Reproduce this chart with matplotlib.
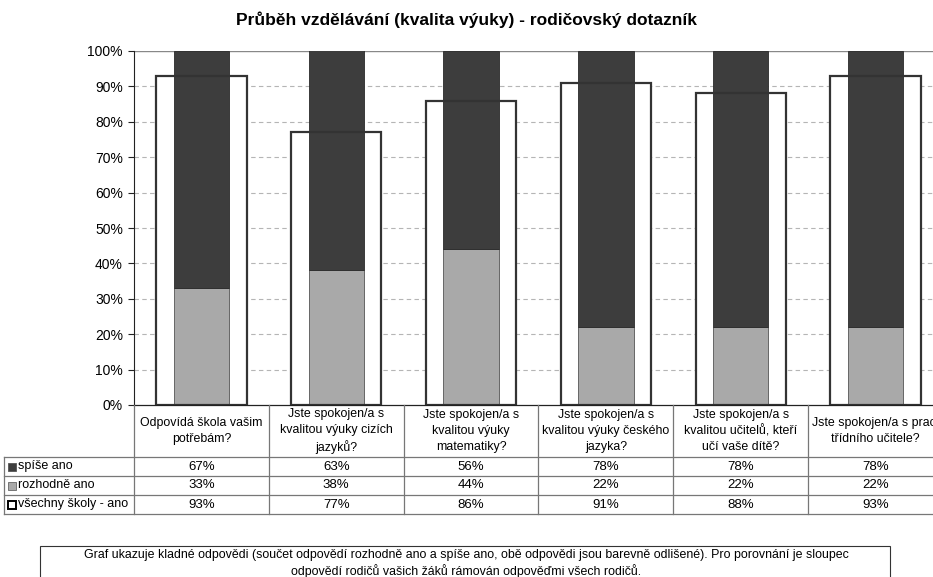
import numpy as np
import matplotlib.pyplot as plt
import matplotlib.transforms as mtransforms
from matplotlib.patches import Rectangle
from matplotlib.lines import Line2D

plt.rcParams['font.family'] = ['Liberation Sans', 'DejaVu Sans']

# --- Data ---
categories = [
    'Odpovídá škola vašim\npotřebám?',
    'Jste spokojen/a s\nkvalitou výuky cizích\njazyků?',
    'Jste spokojen/a s\nkvalitou výuky\nmatematiky?',
    'Jste spokojen/a s\nkvalitou výuky českého\njazyka?',
    'Jste spokojen/a s\nkvalitou učitelů, kteří\nučí vaše dítě?',
    'Jste spokojen/a s prací\ntřídního učitele?',
]
spise_ano = [67, 63, 56, 78, 78, 78]
rozhodne_ano = [33, 38, 44, 22, 22, 22]
vsechny_skoly = [93, 77, 86, 91, 88, 93]
series_labels = ['spíše ano', 'rozhodně ano', 'všechny školy - ano']

title = 'Průběh vzdělávání (kvalita výuky) - rodičovský dotazník'
note = ('Graf ukazuje kladné odpovědi (součet odpovědí rozhodně ano a spíše ano, obě odpovědi jsou barevně odlišené). '
        'Pro porovnání je sloupec\nodpovědí rodičů vašich žáků rámován odpověďmi všech rodičů.')

# --- Layout (pixels) ---
W, H = 933, 577
def fx(x): return x / W
def fy(y): return 1 - y / H

dark = '#3d3d3d'
light = '#a9a9a9'
edge = '#333333'
grid_c = '#b5b5b5'

fig = plt.figure(figsize=(W / 100, H / 100), dpi=100)
ax = fig.add_axes([fx(134), fy(405), fx(943 - 134), (405 - 51) / H])

x = np.arange(len(categories))

# outline (all schools) - white fill hides grid
ax.bar(x, vsechny_skoly, width=0.67, color='white', edgecolor='none', zorder=2)
ax.bar(x, rozhodne_ano, width=0.41, color=light, edgecolor='#555555', linewidth=0.6, zorder=3)
ax.bar(x, spise_ano, width=0.41, bottom=rozhodne_ano, color=dark, edgecolor='#2a2a2a',
       linewidth=0.6, zorder=3)
ax.bar(x, vsechny_skoly, width=0.67, fill=False, edgecolor=edge, linewidth=1.6, zorder=4)

ax.set_xlim(-0.5, len(categories) - 0.5)
ax.set_ylim(0, 100)
ax.set_yticks(np.arange(0, 101, 10))
ax.set_yticklabels([f'{v}%' for v in range(0, 101, 10)], fontsize=10)
ax.set_xticks([])
for v in range(10, 100, 10):
    ax.axhline(v, color=grid_c, linestyle=(0, (4, 3)), linewidth=0.8, zorder=1)
ax.axhline(100, color='#888888', linewidth=1.0, zorder=1)
for s in ['top', 'right', 'bottom']:
    ax.spines[s].set_visible(False)
ax.spines['left'].set_color('#222222')
ax.tick_params(axis='y', length=4, color='#222222', pad=4)

fig.text(fx(466), fy(20), title, ha='center', va='center', fontsize=12.5, fontweight='bold')

# --- Data table under the chart ---
tr = mtransforms.blended_transform_factory(ax.transData, fig.transFigure)
line_c = '#777777'
row_y = [405, 457, 476, 495, 514]
x_left_tab = 4

# horizontal lines
fig.add_artist(Line2D([fx(134), fx(943)], [fy(405), fy(405)], color='#222222', lw=0.9))
for yy in row_y[1:]:
    fig.add_artist(Line2D([fx(x_left_tab), fx(943)], [fy(yy), fy(yy)], color=line_c, lw=0.9))
# vertical lines
for i in range(len(categories) + 1):
    fig.add_artist(Line2D([i - 0.5, i - 0.5], [fy(405), fy(514)], color=line_c, lw=0.9,
                          transform=tr))
fig.add_artist(Line2D([fx(x_left_tab), fx(x_left_tab)], [fy(457), fy(514)], color=line_c, lw=0.9))

# category header text
for i, c in enumerate(categories):
    fig.text(i, fy(431), c, transform=tr, ha='center', va='center', fontsize=8.9,
             linespacing=1.4)

# rows
rows = [spise_ano, rozhodne_ano, vsechny_skoly]
swatch = [dict(fc=dark, ec='#555555'), dict(fc=light, ec='#666666'), dict(fc='white', ec='black')]
for r, (vals, lab, sw) in enumerate(zip(rows, series_labels, swatch)):
    yc = (row_y[r + 1] + row_y[r + 2]) / 2
    fig.add_artist(Rectangle((fx(8), fy(yc + 4)), 8 / W, 8 / H, facecolor=sw['fc'],
                             edgecolor=sw['ec'], lw=1.4 if r == 2 else 0.6))
    fig.text(fx(18), fy(yc), lab, ha='left', va='center', fontsize=9)
    for i, v in enumerate(vals):
        fig.text(i, fy(yc), f'{v}%', transform=tr, ha='center', va='center', fontsize=9.5)

# --- Note box ---
fig.add_artist(Rectangle((fx(40), fy(600)), (890 - 40) / W, (600 - 546) / H, facecolor='white',
                         edgecolor='#333333', lw=0.8))
fig.text(fx(466), fy(563.5), note, ha='center', va='center', fontsize=8.9, linespacing=1.3)

fig.savefig('out.png', dpi=100)
